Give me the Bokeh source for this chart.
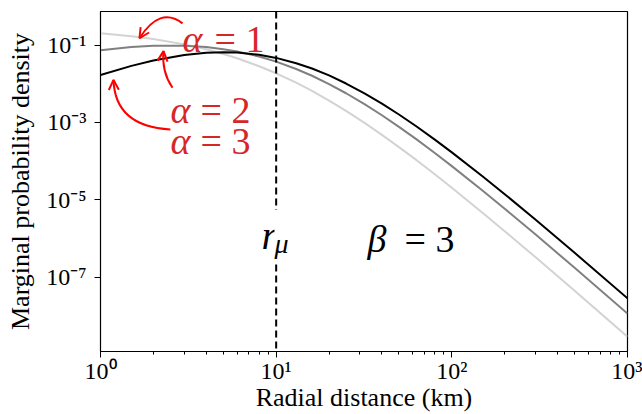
from bokeh.plotting import figure
from bokeh.models import (FixedTicker, CustomJSTickFormatter, Span, Label, Arrow, OpenHead)
from bokeh.embed import file_html
from bokeh.resources import INLINE

# ---------------- data ----------------
radial_km = [1, 1.5, 2, 3, 4, 5, 6, 8, 10, 13, 16, 20, 25, 32, 40, 50, 63, 80,
             100, 150, 200, 300, 500, 1000]
density_alpha1 = [2.05e-1, 1.71e-1, 1.45e-1, 1.05e-1, 7.81e-2, 5.93e-2, 4.58e-2,
                  2.86e-2, 1.875e-2, 1.07e-2, 6.57e-3, 3.70e-3, 2.00e-3, 9.64e-4,
                  4.80e-4, 2.31e-4, 1.06e-4, 4.57e-5, 2.05e-5, 4.58e-6, 1.54e-6,
                  3.25e-7, 4.44e-8, 2.88e-9]
density_alpha2 = [7.45e-2, 8.95e-2, 9.65e-2, 9.70e-2, 8.92e-2, 7.90e-2, 6.87e-2,
                  5.08e-2, 3.75e-2, 2.42e-2, 1.62e-2, 9.88e-3, 5.71e-3, 2.94e-3,
                  1.54e-3, 7.72e-4, 3.65e-4, 1.63e-4, 7.45e-5, 1.72e-5, 5.88e-6,
                  1.26e-6, 1.74e-7, 1.14e-8]
density_alpha3 = [1.69e-2, 2.92e-2, 4.02e-2, 5.59e-2, 6.37e-2, 6.58e-2, 6.44e-2,
                  5.64e-2, 4.69e-2, 3.42e-2, 2.49e-2, 1.65e-2, 1.02e-2, 5.60e-3,
                  3.07e-3, 1.61e-3, 7.87e-4, 3.61e-4, 1.69e-4, 4.02e-5, 1.40e-5,
                  3.04e-6, 4.26e-7, 2.83e-8]
r_mu = 10
x_ticks = [1, 10, 100, 1000]
x_minor_ticks = [2, 3, 4, 5, 6, 7, 8, 9, 20, 30, 40, 50, 60, 70, 80, 90,
                 200, 300, 400, 500, 600, 700, 800, 900]
y_ticks = [1e-7, 1e-5, 1e-3, 1e-1]
alpha_names = ["= 1", "= 2", "= 3"]
beta_name = "= 3"

SERIF = "Liberation Serif"
RED_TXT = "#d62728"
Y0, Y1 = 1.19e-9, 0.744

p = figure(width=642, height=414, x_axis_type="log", y_axis_type="log",
           x_range=(1, 1000), y_range=(Y0, Y1),
           output_backend="svg", toolbar_location=None,
           min_border_left=100, min_border_right=15, min_border_top=11, min_border_bottom=60)

p.background_fill_color = "white"
p.border_fill_color = "white"
p.grid.visible = False
p.outline_line_color = "black"
p.outline_line_width = 1.2

fmt = CustomJSTickFormatter(code="""
const sup = {'0':'\u2070','1':'\u00b9','2':'\u00b2','3':'\u00b3','4':'\u2074','5':'\u2075',
             '6':'\u2076','7':'\u2077','8':'\u2078','9':'\u2079','-':'\u207b'};
const e = Math.round(Math.log10(tick));
return '10' + String(e).split('').map(c => sup[c]).join('');
""")

p.xaxis.ticker = FixedTicker(ticks=x_ticks, minor_ticks=x_minor_ticks)
p.yaxis.ticker = FixedTicker(ticks=y_ticks, minor_ticks=[])
for ax in (p.xaxis, p.yaxis):
    ax.formatter = fmt
    ax.major_label_text_font = SERIF
    ax.major_label_text_font_size = "24px"
    ax.major_label_text_color = "black"
    ax.axis_label_text_font = SERIF
    ax.axis_label_text_font_size = "26px"
    ax.axis_label_text_font_style = "normal"
    ax.axis_label_text_color = "black"
    ax.axis_line_color = "black"
    ax.major_tick_line_color = "black"
    ax.minor_tick_line_color = "black"
    ax.major_tick_in = 0
    ax.major_tick_out = 6
    ax.minor_tick_in = 0
    ax.minor_tick_out = 3
p.xaxis.major_label_standoff = 0
p.xaxis.axis_label_standoff = -4
p.yaxis.major_label_standoff = 8
p.yaxis.axis_label_standoff = 8

p.xaxis.axis_label = "Radial distance (km)"
p.yaxis.axis_label = "Marginal probability density"

p.line(radial_km, density_alpha1, line_color="#d3d3d3", line_width=2)
p.line(radial_km, density_alpha2, line_color="#808080", line_width=2)
p.line(radial_km, density_alpha3, line_color="black", line_width=2)

p.add_layout(Span(location=r_mu, dimension="height", line_color="black",
                  line_width=2, line_dash="7 4"))

# r_mu label with white background (interrupts the dashed line)
p.add_layout(Label(x=7.934, y=1.19e-6, text="r", text_font=SERIF, text_font_style="italic",
                   text_font_size="40px", text_color="black", text_baseline="alphabetic",
                   background_fill_color="white", padding=3))
p.add_layout(Label(x=9.78, y=7.44e-7, text="μ", text_font=SERIF, text_font_style="italic",
                   text_font_size="28px", text_color="black", text_baseline="alphabetic",
                   background_fill_color="white"))
# beta label
p.add_layout(Label(x=33.1, y=9.43e-7, text="β", text_font=SERIF, text_font_style="italic",
                   text_font_size="38px", text_color="black", text_baseline="alphabetic"))
p.add_layout(Label(x=53.8, y=9.43e-7, text=beta_name, text_font=SERIF,
                   text_font_size="38px", text_color="black", text_baseline="alphabetic"))

# alpha labels: (alpha x, "=" x, baseline y)
alpha_pos = [(2.929, 4.456, 0.1426), (2.503, 3.709, 2.154e-3), (2.503, 3.709, 3.26e-4)]
for (ax_, ex_, by_), name in zip(alpha_pos, alpha_names):
    p.add_layout(Label(x=ax_, y=by_, text="α", text_font=SERIF, text_font_style="italic",
                       text_font_size="38px", text_color=RED_TXT, text_baseline="alphabetic"))
    p.add_layout(Label(x=ex_, y=by_, text=name, text_font=SERIF,
                       text_font_size="38px", text_color=RED_TXT, text_baseline="alphabetic"))

# curved red arrows: start, control, tip
arrows = [((2.93, 0.3665), (2.18, 1.03), (1.667, 0.1512)),
          ((2.57, 7.9e-3), (2.225, 2.03e-2), (2.284, 7.02e-2)),
          ((2.50, 6.61e-4), (1.209, 7.9e-4), (1.186, 1.267e-2))]
for (s, c, t) in arrows:
    p.quadratic(x0=[s[0]], y0=[s[1]], cx=[c[0]], cy=[c[1]], x1=[t[0]], y1=[t[1]],
                line_color="red", line_width=2)
    p.add_layout(Arrow(end=OpenHead(size=10, line_color="red", line_width=2),
                       x_start=c[0], y_start=c[1], x_end=t[0], y_end=t[1],
                       line_alpha=0))

open("out.html", "w", encoding="utf-8").write(file_html(p, INLINE))
